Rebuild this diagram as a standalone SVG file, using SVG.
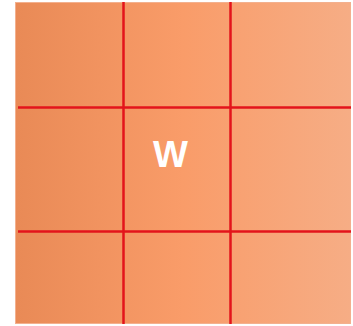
<svg xmlns="http://www.w3.org/2000/svg" width="353" height="326" viewBox="0 0 353 326">
<defs>
<linearGradient id="g" x1="0" y1="0" x2="1" y2="0">
<stop offset="0" stop-color="#E98A56"/>
<stop offset="0.5" stop-color="#F99C69"/>
<stop offset="1" stop-color="#F6AD85"/>
</linearGradient>
<style>.l{stroke:#E3141B;stroke-width:2.5;fill:none}</style>
</defs>
<g id="board">
<rect x="15.5" y="2.5" width="335" height="321" fill="url(#g)" stroke="#F3B08E" stroke-width="1"/>
</g>
<g id="grid">
<line class="l" x1="18" y1="107.5" x2="351" y2="107.5"/>
<line class="l" x1="18" y1="231.5" x2="351" y2="231.5"/>
<line class="l" x1="123.5" y1="2" x2="123.5" y2="324"/>
<line class="l" x1="230.5" y1="2" x2="230.5" y2="324"/>
</g>
<g id="cell-w">
<text x="170.5" y="167" text-anchor="middle" font-family="Liberation Sans, Arial, sans-serif" font-weight="bold" font-size="37" fill="#FFFFFF">W</text>
</g>
</svg>
